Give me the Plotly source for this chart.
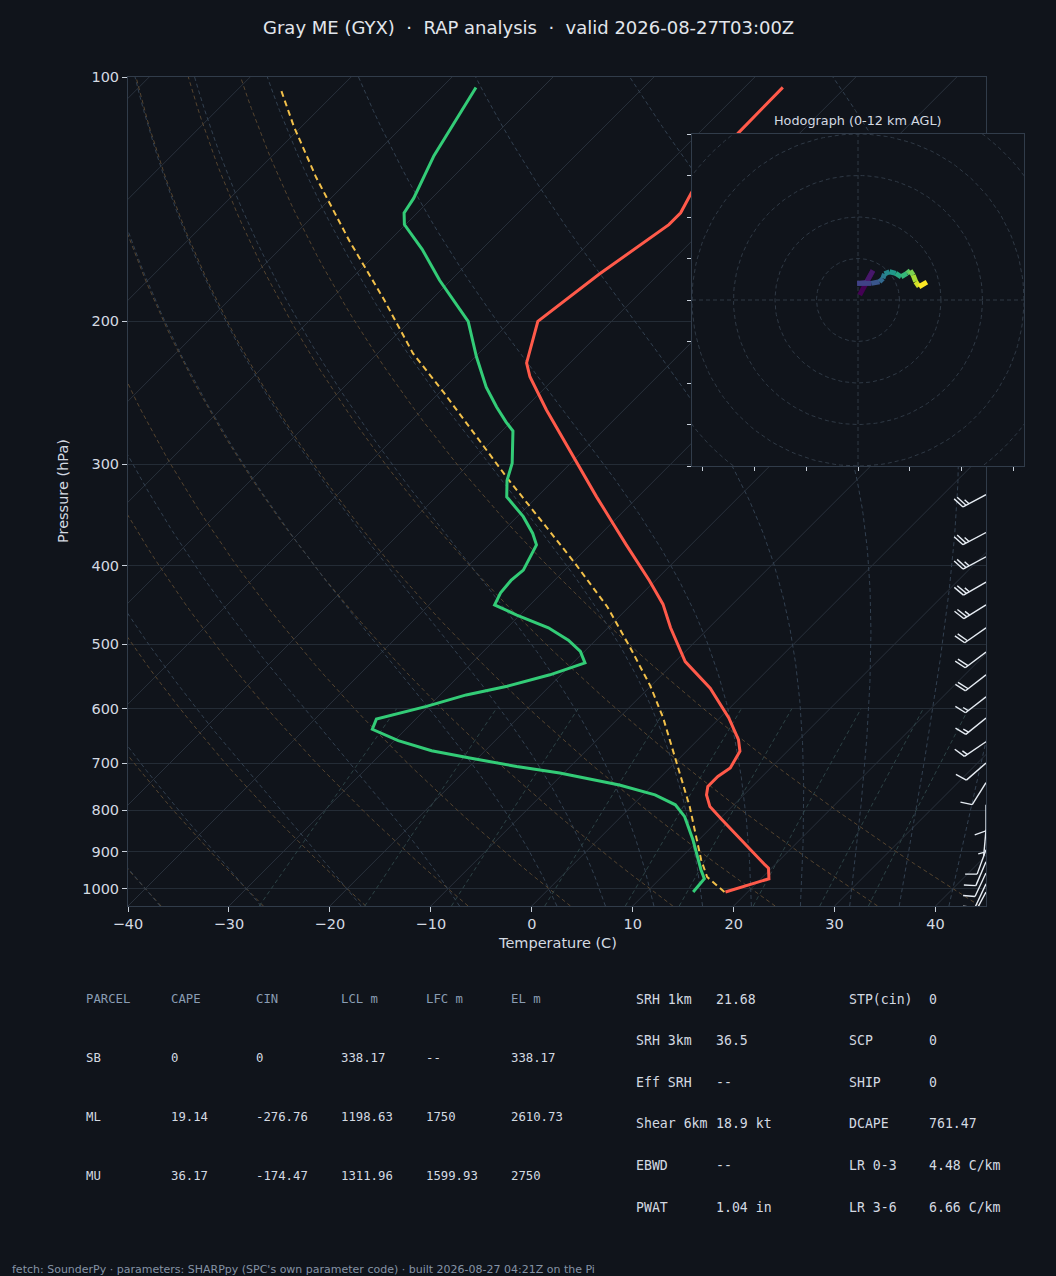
import numpy as np
import plotly.graph_objects as go
from plotly.colors import sample_colorscale

W, H = 1056, 1276
BG = "#10141b"
TXT = "#d4dae2"
DIM = "#8a9db3"
SPINE = "#313c4a"
TICK = "#c8d0da"

P_BOT, P_TOP = 1050.0, 100.0
SKEW = 80.4  # deg C of x-shift per decade of pressure (45 degree isotherms)

# sounding (hPa, deg C)
p_temp = [103, 117, 130, 139, 147, 152, 175, 200, 225, 234, 257, 280, 300, 329, 355,
          377, 417, 446, 477, 525, 566, 616, 655, 677, 710, 727, 748, 766, 792, 822,
          934, 943, 972, 1009]
temp_c = [-56.2, -56.1, -55.7, -54.8, -53.9, -53.9, -55.9, -57.3, -54.3, -52.6, -47.7,
          -43.0, -39.2, -34.1, -29.8, -26.4, -20.6, -16.9, -13.8, -9.0, -3.9, 0.9, 4.0,
          5.3, 6.0, 5.6, 5.6, 6.3, 7.8, 10.3, 19.0, 19.7, 20.8, 17.8]

p_dwpt = [103, 118, 125, 141, 147, 152, 163, 178, 200, 221, 241, 255, 266, 273, 299,
          314, 329, 348, 365, 377, 405, 417, 432, 447, 460, 477, 494, 510, 527, 545,
          563, 577, 596, 618, 636, 657, 676, 690, 707, 720, 745, 766, 788, 815, 870,
          948, 972, 1009]
dwpt_c = [-86.6, -84.8, -84.0, -81.8, -81.3, -80.1, -75.9, -71.1, -64.2, -59.9, -55.9,
          -52.9, -50.5, -48.9, -45.8, -44.6, -43.0, -39.4, -36.8, -35.3, -34.1, -34.3,
          -34.1, -33.5, -30.3, -25.9, -22.7, -20.4, -18.8, -21.1, -24.2, -27.4, -30.2,
          -33.9, -33.3, -29.6, -25.3, -20.8, -15.3, -10.4, -3.3, 1.2, 4.2, 6.3, 9.4,
          13.2, 14.4, 14.6]

p_parcel = [1009, 967, 921, 792, 700, 616, 563, 503, 449, 395, 351, 314, 285, 245,
            219, 188, 159, 133, 115, 103]
parcel_c = [17.7, 14.5, 12.2, 5.8, 0.2, -5.6, -10.0, -16.0, -22.2, -30.0, -37.4, -44.4,
            -50.3, -59.5, -66.5, -74.7, -84.0, -93.5, -100.8, -106.0]

# hodograph (kt)
hodo_u = [0.4, 3.6, 2.0, -0.2, 3.2, 5.2, 6.0, 6.4, 7.6, 9.1, 10.4, 11.8, 12.6, 13.3,
          13.9, 14.7, 16.6]
hodo_v = [1.2, 7.1, 4.2, 4.0, 4.0, 4.4, 5.2, 6.3, 6.8, 6.4, 5.6, 6.4, 7.1, 6.0, 4.4,
          3.2, 4.3]

# wind barbs
barb_p = [292, 327, 364, 390, 419, 447, 477, 511, 545, 580, 616, 659, 700, 740, 788,
          846, 895, 926, 956, 986, 1009]
barb_dir = [243, 242, 242, 242, 240, 238, 235, 233, 232, 232, 231, 236, 229, 212, 180,
            185, 200, 203, 205, 205, 208]
barb_kt = [25, 25, 25, 25, 25, 25, 20, 20, 20, 15, 15, 15, 10, 10, 10, 5, 10, 10, 10,
           10, 5]

# parameter tables
parcel_cols = ["PARCEL", "CAPE", "CIN", "LCL m", "LFC m", "EL m"]
parcel_rows = [
    ["SB", "0", "0", "338.17", "--", "338.17"],
    ["ML", "19.14", "-276.76", "1198.63", "1750", "2610.73"],
    ["MU", "36.17", "-174.47", "1311.96", "1599.93", "2750"],
]
idx_left = [["SRH 1km", "21.68"], ["SRH 3km", "36.5"], ["Eff SRH", "--"],
            ["Shear 6km", "18.9 kt"], ["EBWD", "--"], ["PWAT", "1.04 in"]]
idx_right = [["STP(cin)", "0"], ["SCP", "0"], ["SHIP", "0"], ["DCAPE", "761.47"],
             ["LR 0-3", "4.48 C/km"], ["LR 3-6", "6.66 C/km"]]

title = "Gray ME (GYX)\u00a0\u00a0·\u00a0\u00a0RAP analysis\u00a0\u00a0·\u00a0\u00a0valid 2026-08-27T03:00Z"
footer = "fetch: SounderPy · parameters: SHARPpy (SPC's own parameter code) · built 2026-08-27 04:21Z on the Pi"


def skx(t, p):
    return np.asarray(t, float) + SKEW * (np.log10(P_BOT) - np.log10(np.asarray(p, float)))


def joined(xs_list, ys_list):
    xs, ys = [], []
    for a, b in zip(xs_list, ys_list):
        xs += list(a) + [None]
        ys += list(b) + [None]
    return xs, ys


def moist_rate(T, p):
    es = 6.112 * np.exp(17.67 * (T - 273.15) / (T - 29.65))
    rs = 0.622 * es / (p - es)
    num = (287.04 * T + 2.501e6 * rs) / p
    den = 1005.7 + (2.501e6 ** 2 * rs * 0.622) / (287.04 * T ** 2)
    return num / den


def moist_run(T0, p_end, n):
    ps = np.linspace(1000.0, p_end, n)
    out = [T0]
    T = T0
    for i in range(1, n):
        p, h = ps[i - 1], ps[i] - ps[i - 1]
        k1 = moist_rate(T, p)
        k2 = moist_rate(T + h / 2 * k1, p + h / 2)
        k3 = moist_rate(T + h / 2 * k2, p + h / 2)
        k4 = moist_rate(T + h * k3, p + h)
        T = T + h / 6 * (k1 + 2 * k2 + 2 * k3 + k4)
        out.append(T)
    return ps, np.array(out)


fig = go.Figure()

# isotherms
iso_t = np.arange(-130, 50, 10)
pp = np.array([P_BOT, P_TOP])
xs, ys = joined([skx([t, t], pp) for t in iso_t], [pp] * len(iso_t))
fig.add_trace(go.Scatter(x=xs, y=ys, mode="lines", line=dict(color="#29313c", width=1),
                         hoverinfo="skip"))

# dry adiabats
pl = np.logspace(np.log10(P_BOT), np.log10(P_TOP), 80)
dry_t0 = np.arange(-40, 41, 10)
xs, ys = joined([skx((t + 273.15) * (pl / 1000.0) ** 0.2857 - 273.15, pl) for t in dry_t0],
                [pl] * len(dry_t0))
fig.add_trace(go.Scatter(x=xs, y=ys, mode="lines",
                         line=dict(color="#55442f", width=1, dash="4px,3px"), hoverinfo="skip"))

# moist adiabats
moist_t0 = np.concatenate((np.arange(-40, 0, 10), np.arange(0, 46, 5))) + 273.15
pu, tu = moist_run(moist_t0, P_TOP, 181)
pd_, td = moist_run(moist_t0, P_BOT, 11)
pm = np.concatenate((pd_[::-1], pu[1:]))
tm = np.concatenate((td[::-1], tu[1:]), axis=0) - 273.15
xs, ys = joined([skx(tm[:, i], pm) for i in range(len(moist_t0))], [pm] * len(moist_t0))
fig.add_trace(go.Scatter(x=xs, y=ys, mode="lines",
                         line=dict(color="#324050", width=1, dash="4px,3px"), hoverinfo="skip"))

# mixing ratio lines
mix_w = np.array([0.4, 1, 2, 4, 7, 10, 16, 24, 32]) / 1000.0
pmx = np.linspace(P_BOT, 600, 30)
mx_x = []
for w in mix_w:
    e = w * pmx / (0.622 + w)
    le = np.log(e / 6.112)
    mx_x.append(skx(243.5 * le / (17.67 - le), pmx))
xs, ys = joined(mx_x, [pmx] * len(mix_w))
fig.add_trace(go.Scatter(x=xs, y=ys, mode="lines",
                         line=dict(color="#2c4245", width=1, dash="4px,3px"), hoverinfo="skip"))

# profiles
fig.add_trace(go.Scatter(x=skx(parcel_c, p_parcel), y=p_parcel, mode="lines",
                         line=dict(color="#f2c04a", width=2, dash="6px,4px")))
fig.add_trace(go.Scatter(x=skx(temp_c, p_temp), y=p_temp, mode="lines",
                         line=dict(color="#ff5a4a", width=3)))
fig.add_trace(go.Scatter(x=skx(dwpt_c, p_dwpt), y=p_dwpt, mode="lines",
                         line=dict(color="#33cc77", width=3)))

# wind barbs along the right edge
PXX = (986 - 128) / 85.0
PXY = (906 - 77) / np.log10(P_BOT / P_TOP)


def barb_lines(p, wdir, spd):
    L, full, half, gap = 26.0, 12.0, 6.0, 3.4
    th = np.deg2rad(wdir)
    s = np.array([np.sin(th), -np.cos(th)])
    n = np.array([-s[1], s[0]])
    f = 0.94 * n + 0.34 * s
    segs = [(np.zeros(2), L * s)]
    nfull, nhalf = int(spd // 10), int(round((spd % 10) / 5))
    pos = L if nfull else L - gap
    for _ in range(nfull):
        segs.append((pos * s, pos * s + full * f))
        pos -= gap
    for _ in range(nhalf):
        segs.append((pos * s, pos * s + half * f))
        pos -= gap
    bx, by = [], []
    for a, b in segs:
        for q in (a, b):
            bx.append(45 + q[0] / PXX)
            by.append(p * 10 ** (q[1] / PXY))
        bx.append(None)
        by.append(None)
    return bx, by


bx, by = [], []
for p, d, k in zip(barb_p, barb_dir, barb_kt):
    a, b = barb_lines(p, d, k)
    bx += a
    by += b
fig.add_trace(go.Scatter(x=bx, y=by, mode="lines", line=dict(color="#e6ecf3", width=1.4),
                         hoverinfo="skip"))

# hodograph inset
th = np.linspace(0, 2 * np.pi, 181)
rx, ry = joined([r * np.cos(th) for r in range(10, 70, 10)],
                [r * np.sin(th) for r in range(10, 70, 10)])
fig.add_trace(go.Scatter(x=rx, y=ry, xaxis="x2", yaxis="y2", mode="lines",
                         line=dict(color="#2f3945", width=1, dash="4px,3px"), hoverinfo="skip"))
fig.add_trace(go.Scatter(x=[-40, 40, None, 0, 0], y=[0, 0, None, -40, 40], xaxis="x2",
                         yaxis="y2", mode="lines",
                         line=dict(color="#2f3945", width=1, dash="4px,3px"), hoverinfo="skip"))
nseg = len(hodo_u) - 1
cols = sample_colorscale("Viridis", [i / (nseg - 1) for i in range(nseg)])
for i in range(nseg):
    fig.add_trace(go.Scatter(x=hodo_u[i:i + 2], y=hodo_v[i:i + 2], xaxis="x2", yaxis="y2",
                             mode="lines", line=dict(color=cols[i], width=5)))

# axes
fig.update_layout(
    width=W, height=H, margin=dict(l=0, r=0, t=0, b=0, pad=0, autoexpand=False),
    paper_bgcolor=BG, plot_bgcolor=BG, showlegend=False,
    font=dict(family="DejaVu Sans", color=TXT),
    xaxis=dict(domain=[128 / W, 986 / W], range=[-40, 45], tickvals=list(range(-40, 41, 10)),
               ticks="outside", ticklen=5, tickcolor=TICK, tickfont=dict(size=14.5, color=TXT),
               showgrid=False, zeroline=False, showline=True, mirror=True, linecolor=SPINE,
               automargin=False),
    yaxis=dict(domain=[1 - 906 / H, 1 - 77 / H], type="log",
               range=[np.log10(P_BOT), np.log10(P_TOP)],
               tickvals=list(range(100, 1001, 100)), ticktext=[str(v) for v in range(100, 1001, 100)],
               ticks="outside", ticklen=5, tickcolor=TICK, tickfont=dict(size=14.5, color=TXT),
               showgrid=True, gridcolor="#242c36", gridwidth=1, zeroline=False,
               showline=True, mirror=True, linecolor=SPINE, automargin=False),
    xaxis2=dict(domain=[692 / W, 1024 / W], anchor="y2", range=[-40, 40],
                tickvals=[-37.5, -25, -12.5, 0, 12.5, 25, 37.5], showticklabels=False,
                ticks="outside", ticklen=4, tickcolor=TICK, showgrid=False, zeroline=False,
                showline=True, mirror=True, linecolor=SPINE, automargin=False),
    yaxis2=dict(domain=[1 - 466 / H, 1 - 134 / H], anchor="x2", range=[-40, 40],
                tickvals=list(range(-40, 41, 10)), showticklabels=False,
                ticks="outside", ticklen=4, tickcolor=TICK, showgrid=False, zeroline=False,
                showline=True, mirror=True, linecolor=SPINE, automargin=False),
)


def note(text, x, y, size, color=TXT, family="DejaVu Sans", xanchor="left", angle=0):
    fig.add_annotation(text=text, x=x / W, y=1 - y / H, xref="paper", yref="paper",
                       xanchor=xanchor, yanchor="middle", showarrow=False, textangle=angle,
                       font=dict(size=size, color=color, family=family))


note(title, 528, 27, 18, color="#e2e6ec", xanchor="center")
note("Hodograph (0-12 km AGL)", 858, 120, 12.8, xanchor="center")
note("Temperature (C)", 557, 943, 14.5, xanchor="center")
note("Pressure (hPa)", 63, 491, 14.5, xanchor="center", angle=-90)

MONO = "DejaVu Sans Mono"
for i, c in enumerate(parcel_cols):
    note(c, 84 + 85 * i, 999, 12.3, color=DIM, family=MONO)
for j, row in enumerate(parcel_rows):
    for i, c in enumerate(row):
        note(c, 84 + 85 * i, 1058 + 59 * j, 12.3, family=MONO)
for j, (a, b) in enumerate(idx_left):
    note(a, 634, 999 + 41.6 * j, 13.2, family=MONO)
    note(b, 714, 999 + 41.6 * j, 13.2, family=MONO)
for j, (a, b) in enumerate(idx_right):
    note(a, 847, 999 + 41.6 * j, 13.2, family=MONO)
    note(b, 927, 999 + 41.6 * j, 13.2, family=MONO)

note(footer, 10, 1269, 11, color="#8593a5")

fig.write_html("out.html", config={"displayModeBar": False},
               post_script="document.body.style.margin='0';document.body.style.overflow='hidden';")
